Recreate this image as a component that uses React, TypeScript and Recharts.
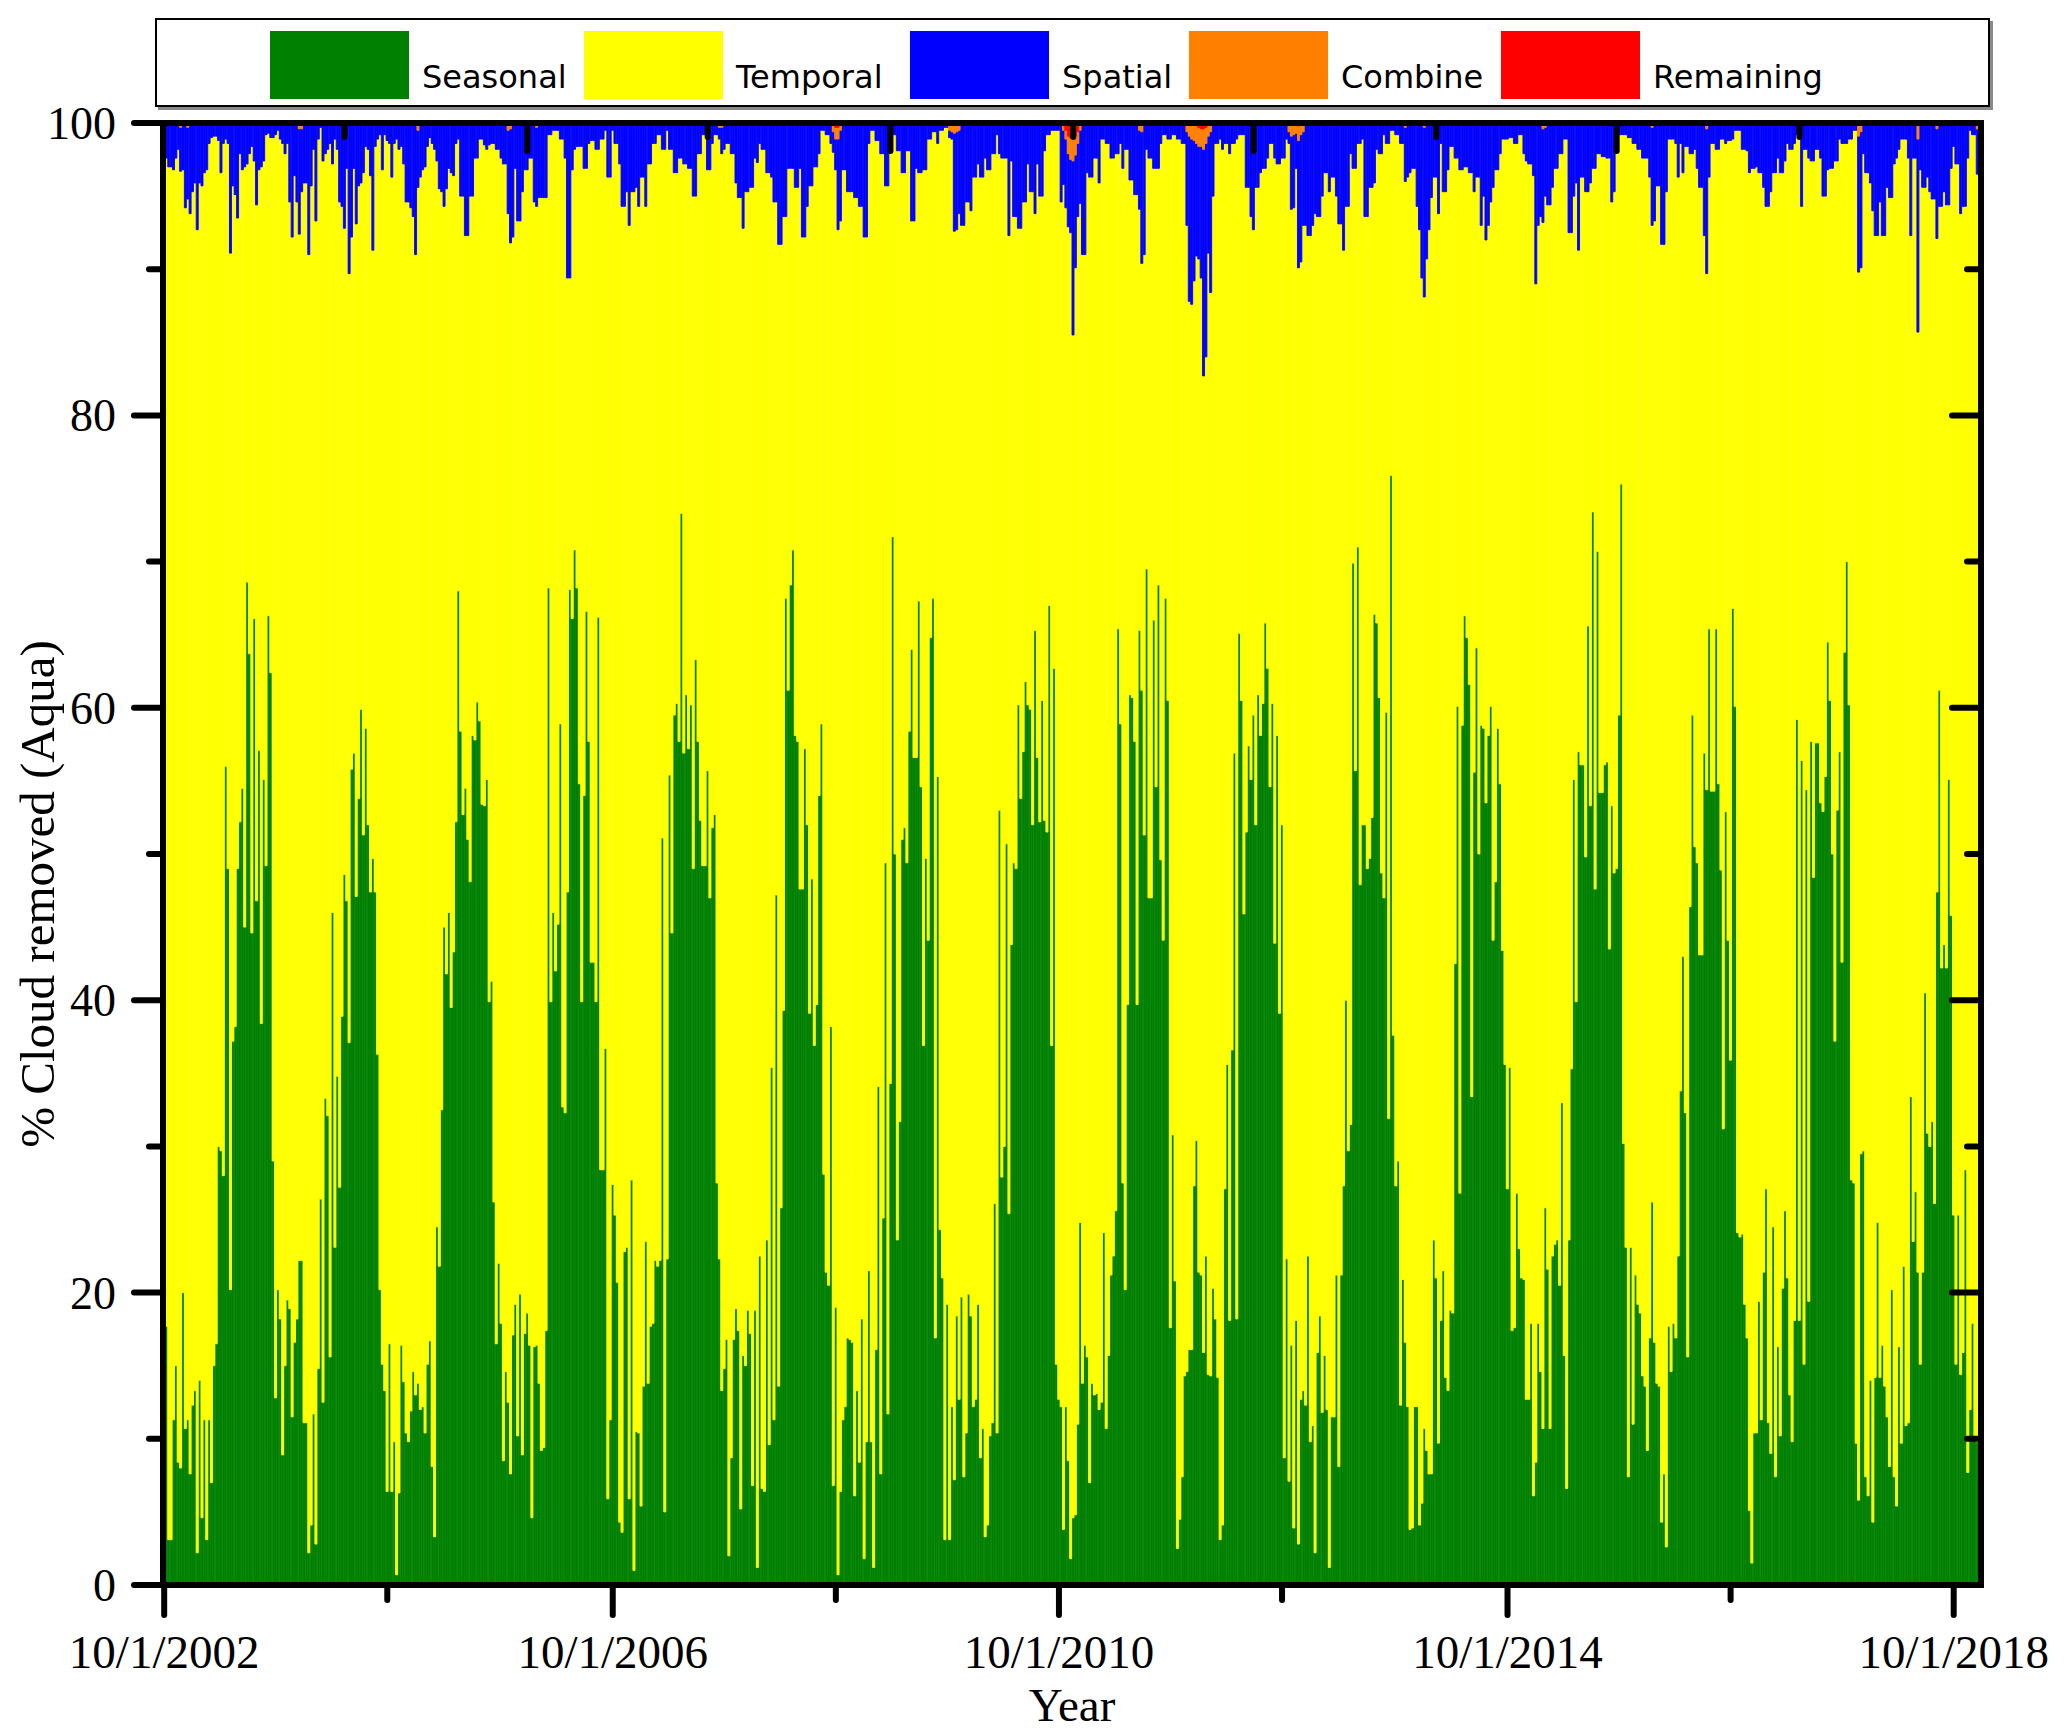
import React from 'react';
import { BarChart, Bar, XAxis, YAxis, Legend } from 'recharts';

// 8-day composites left to right, split into chunks (%)
const seasonalA = [
  33, 17.7, 3.1, 3.1, 11.3, 15, 8.4, 8, 20, 10.7, 11.3, 7.6, 12.3, 13.3, 2.2, 14, 4.6, 11.3, 3.1, 11.3,
  7, 15, 16.5, 30, 29.7, 28, 56, 49, 20.2, 37.2, 38.2, 49, 52.2, 54.5, 45, 68.6, 63.7, 44.6, 66.1, 46.8,
  57.1, 38.4, 55.1, 49.2, 66.3, 62.4, 29, 12.8, 20.2, 18.2, 8.9, 15, 19.5, 18.9, 11.5, 16.6, 18.2, 22.2, 22.2, 11.1,
  11.1, 2.2, 4.1, 11.7, 2.8, 14.8, 26.4, 12.5, 33.3, 32.1, 15.6, 46, 23.1, 34.8, 27.2, 38.9, 48.6, 46.8, 37.1, 55.8,
  56.9, 47.1, 53.8, 59.9, 51.3, 58.6, 52, 47.4, 49.7, 47.4, 36.3, 20.2, 15.1, 13.3, 6.4, 16.5, 6.4, 9.8, 0.7, 6.3,
  16.4, 13.9, 10.4, 9.8, 11.9, 14.6, 13, 13.8, 12, 12.2, 10.4, 15.1, 16.7, 8.1, 3.3, 24.5, 21.8, 32.5, 45, 41.8,
  46, 39.5, 43.3, 52.2, 68,
];
const seasonalB = [
  58.4, 52.7, 54.5, 51, 48.1, 58.1, 57.8, 60.4, 59.1, 53.4, 53.3, 55.1, 39.9, 41.3, 26.2, 16.5, 22, 17.9, 8.5, 14.6,
  12.5, 7.6, 17.1, 19.2, 10.2, 19.9, 8.9, 17.2, 18.6, 16.4, 4.6, 16.3, 16.4, 13.8, 9.2, 9.4, 17.4, 68.2, 39.9, 46,
  42, 45.2, 58.9, 32.7, 32.3, 47.4, 68.1, 66.1, 70.8, 68.2, 54.8, 39.9, 54, 66.6, 57.7, 42.6, 42.6, 39.9, 66.2, 28.4,
  28.4, 36.7, 5.9, 11.3, 27.4, 25.3, 20.7, 4.3, 3.6, 22.8, 23.1, 5.9, 27.7, 1, 10.5, 10.4, 5.4, 13.6, 23.5, 13.8,
  17.7, 17.9, 22.2, 21.8, 22.2, 51.1, 5, 22.3, 55.4, 44.6, 59.5, 60.3, 57.7, 73.3, 56.9, 60.9, 57.2, 60.2, 49, 63.3,
  57.7, 52.3, 49.2, 49.2, 55.7, 47, 51.8, 52.7, 27.5, 22.3, 13.3, 14.8, 16.8, 2, 8.7, 16.8, 18.9, 17.4, 5.2, 15.7,
  15, 18.8, 17.2, 6.8, 18.8,
];
const seasonalC = [
  1.2, 22.5, 6.6, 6.4, 23.6, 9.6, 35.4, 11.3, 47.2, 13.6, 25.8, 39.3, 67.5, 61.2, 68.4, 70.8, 58.1, 57.7, 47.6, 47.6,
  57.2, 52, 39.1, 48.3, 36.9, 39.7, 54, 58.9, 28.1, 21.4, 20.5, 38.2, 6.8, 19, 0.7, 6.4, 11.3, 12.2, 16.9, 16.8,
  16.6, 6.1, 13.3, 8.4, 18.2, 1.8, 9.8, 21.5, 9.8, 1.2, 16.1, 34.1, 7.6, 25.1, 49.4, 11.7, 34.3, 71.7, 50, 23.6,
  31.7, 51, 51.8, 49.4, 58.4, 64, 56.6, 56.6, 67.3, 54.6, 36.9, 49.7, 44.1, 64.8, 67.5, 16.9, 55.3, 24.3, 21, 3.1,
  19.2, 3.1, 12.2, 7.2, 18.4, 12.7, 19.7, 7.4, 10.4, 19.9, 18.4, 12.2, 12.7, 19.2, 8.7, 10.7, 3.3, 4.1, 10.2, 11.1,
  26.1, 10.4, 53, 27.9, 30, 50.7, 25.4, 43.8, 49.4, 49, 60.2, 53.8, 57, 61.8, 60.2, 59.9, 52, 65.3, 56.6, 52.2,
  60.5, 52.3, 51.5, 67, 36.9, 62.7, 15.1, 12.7,
];
const seasonalD = [
  12.2, 3.8, 12.2, 8.5, 1.8, 4.6, 4.8, 11, 24.8, 13.8, 16.4, 15.6, 7, 13.8, 13, 13.1, 12, 12.5, 24.1, 10.7,
  15.7, 21.2, 22.5, 25.6, 65.4, 58.9, 27.5, 20.2, 39.7, 60.9, 60.7, 57.7, 39.7, 65.3, 61.2, 51.3, 69.5, 47, 47, 66,
  54.6, 68.4, 49.6, 44.1, 67.5, 60.5, 17.6, 30.8, 20.8, 2.5, 4.5, 7.4, 14.3, 14.6, 16.1, 16.1, 27.3, 30.4, 21.4, 21.2,
  15.9, 22.5, 14.4, 14.3, 20.3, 18.2, 14.2, 3.1, 4.1, 27.1, 35.6, 18.1, 36.6, 56.9, 18.2, 65.1, 60.5, 45.9, 51.5, 57.4,
  55.1, 59.5, 52, 60.9, 58.1, 60.3, 65.8, 62.7, 54.6, 60.3, 43.9, 58.1, 39.1, 52, 8.7, 22.3, 7.1, 16.4, 3.9, 18.1,
  2.8, 12.7, 13.3, 12.3, 22.5, 9.8, 10.9, 2.2, 15.9, 18.4, 11.8, 15.7, 12, 1.2, 11.5, 11.5, 21.2, 8.1, 21.2, 27.3,
  40, 29.7, 31.5, 69.9, 55.7, 71, 47.9, 52,
];
const seasonalE = [
  52, 49, 49.7, 52.5, 66.4, 65.8, 60.7, 48.7, 47, 59.7, 31.9, 75.9, 37.6, 27.3, 29, 12.3, 20.9, 16.6, 12.2, 3.8,
  3.9, 12.2, 12.2, 4.1, 5.6, 10.7, 9.2, 7.6, 7.6, 23.6, 21, 9.7, 18.1, 21.5, 14.2, 13.3, 18.8, 18.6, 42.5, 60.1,
  26.8, 58.8, 66.3, 64.8, 61.6, 33.4, 55.6, 64.1, 50, 58.8, 58.6, 53.5, 58.1, 60.1, 44.1, 48.1, 58.6, 54.8, 43.4, 35.6,
  27.1, 35.4, 17.4, 17.6, 26.8, 23, 21, 20.9, 12.7, 12.7, 17.9, 6.1, 8.4, 17.9, 14.6, 10.7, 25.8, 21.6, 10.7, 22.5,
  23.3, 23.6, 20.5, 33, 15.7, 6.6, 23.6, 35.3, 55.1, 39.9, 57, 56.1, 56.1, 49.8, 65.6, 53.3, 73.4, 47.6, 70.7, 54.2,
  54.2, 56.1, 56.3, 43.5, 53.3, 48.7, 49, 59.5, 75.3, 30.2, 23.1, 7.4, 23.1, 11, 21.2, 19.2, 18.6, 14.3, 13.6, 9.2,
  16.9, 26.2, 16.6, 13.8, 13.6, 4.3, 7.6, 2.6,
];
const seasonalF = [
  17.7, 14.6, 17.9, 16.9, 22.5, 33.8, 43, 32.3, 15.6, 46.4, 59.5, 50.5, 49.4, 43.1, 43.1, 56.9, 54.4, 65.4, 54.3, 54.3,
  65.4, 54.8, 48.9, 31.2, 52.9, 44.1, 35.9, 66.8, 60.1, 24.1, 23.8, 24, 19.2, 16.9, 5.1, 1.5, 10.4, 10.4, 19.4, 11.3,
  21.4, 27.1, 11.1, 9, 24.5, 7.4, 16.3, 10.2, 20.3, 25.6, 21, 13, 9.8, 18.1, 59.2, 18.1, 56.4, 15.1, 54.4, 19.4,
  57.7, 48.4, 57.6, 57.6, 53.5, 52.9, 55.3, 64.5, 60.5, 50, 37.2, 53, 57, 42.6, 63.8, 70, 60.2, 27.7, 27.5, 9.7,
  5.8, 29.5, 29.7, 7.4, 6.1, 14, 4.3, 14.2, 24.8, 14.2, 16.4, 13.6, 11.5, 8.1, 20.2, 7.4, 5.4, 16.3, 9.7, 21.8,
  10.9, 11.1, 33.4, 23.5, 26.9, 21.4, 15.1, 21.4, 40.5, 30.9, 30, 31.7, 26.1, 47.4, 61.2, 42.2, 43.8, 42.2, 55.1, 45.8,
  25.3, 15.1, 25.3, 14.4, 15.9, 28.4, 7.7, 12, 17.9, 10, 9.8, 6.1,
];

const spatialA = [
  2.4, 2.4, 3, 3, 3.2, 2.4, 1.8, 3, 3.2, 5.8, 4.9, 6.2, 4.7, 4.1, 7.3, 4.1, 4.3, 3.4, 3.2, 1.4,
  1, 0.9, 0.9, 1.2, 3.4, 1.4, 1.1, 1.4, 8.9, 4.3, 4.9, 6.5, 2.1, 3.2, 3, 2.8, 2.1, 1.6, 2.6, 5.6,
  3.2, 3, 2.6, 0.8, 0.7, 1, 1, 0.8, 0.5, 1.1, 1.4, 2.1, 1.4, 5.4, 7.8, 3.6, 5.4, 7.2, 4.3, 4.1,
  4.1, 9, 4.3, 1.8, 6.7, 1.1, 0.3, 2.6, 2.1, 1.8, 1.4, 2.8, 1.1, 1.8, 5.4, 5.7, 7.2, 3.1, 10.3, 7.8,
  3.1, 6.9, 4.3, 4.1, 3.4, 1.6, 1.8, 3.6, 8.7, 1.6, 1.1, 0.8, 3.2, 0.8, 1.2, 1.4, 3.7, 1.4, 1.1, 1.8,
  1.6, 2.8, 5.4, 5.4, 5.8, 6.4, 9, 3.9, 3.7, 3.2, 3, 1.6, 1, 1.4, 1.8, 2.6, 4.5, 4.7, 5.7, 4.5,
  3.1, 3.4, 3.6, 1.4, 1.1,
];
const spatialB = [
  5, 5, 7.7, 7.7, 5, 5, 2.4, 2.4, 1.1, 1.1, 1.5, 1.8, 1.5, 1.4, 1.4, 1.8, 1.8, 2.4, 2.8, 2.8,
  5.7, 7.8, 7.8, 3.1, 6.7, 6.7, 4.7, 3.2, 3.2, 2.4, 2.4, 5.4, 5.4, 5.1, 5.1, 5.1, 5.1, 0.8, 0.8, 0.5,
  0.5, 0.5, 1.1, 1.1, 2.4, 10.6, 10.6, 3.2, 1.8, 1.6, 1.6, 1.6, 3.1, 3.1, 1.4, 1.2, 1.2, 1.8, 1.8, 1.1,
  1.1, 0.5, 3.7, 3.7, 0.5, 1.4, 1.4, 2.8, 5.7, 5.7, 4.7, 7, 4.7, 4.7, 4.4, 5.7, 3.7, 3.7, 5.7, 2.8,
  2.8, 1.4, 1.4, 0.8, 0.8, 1.8, 1.8, 0.5, 1.8, 1.8, 3.4, 3.4, 2.4, 2.4, 2.8, 2.8, 3.1, 3.1, 5, 5,
  2.1, 2.1, 0.8, 0.8, 3.2, 3.2, 1.4, 0.8, 0.8, 0.8, 1.8, 1.8, 1.4, 1.4, 2.1, 2.1, 4.1, 5.1, 5.1, 7.2,
  4.7, 4.7, 4.4, 4.4, 2.4,
];
const spatialC = [
  2.7, 1.4, 1.8, 1.8, 3.4, 3.4, 3.7, 5.4, 5.4, 8.3, 8.3, 6.4, 6.4, 3.1, 3.1, 3.1, 4.4, 4.4, 3.1, 7.8,
  7.8, 5.7, 4.3, 4.3, 3, 3, 2.1, 0.5, 0.5, 0.8, 0.8, 1.4, 1.4, 2.1, 6.2, 6.2, 3.2, 3.2, 4.7, 4.7,
  4.7, 5.1, 5.1, 5.7, 5.7, 7.8, 7.8, 1.4, 0.5, 0.5, 1.2, 1.2, 2.1, 2.1, 4.3, 4.3, 1.1, 0.8, 0.8, 1.9,
  1.9, 3.4, 3.4, 1.9, 1.9, 6.7, 6.7, 3.1, 3.4, 3.4, 3.2, 3.2, 1.1, 1.1, 0.6, 0.6, 1.4, 0.5, 0.5, 0.3,
  0.3, 0.5, 0.5, 6.7, 6.7, 5.7, 7, 7, 5.4, 5.4, 6, 3.7, 3.7, 2.8, 3.7, 3.7, 2.4, 3.2, 3.2, 2.1,
  2.1, 0.8, 2.1, 2.4, 2.4, 2.4, 7.7, 2.6, 6.4, 6.4, 7.2, 7.2, 5.4, 5.4, 2.8, 4.7, 4.7, 6.2, 2.8, 5,
  5, 1.9, 0.8, 0.8, 0.5, 0.5, 0.5, 0.5,
];
const spatialD = [
  5.4, 3.7, 4.7, 5, 5, 11.9, 7.7, 5, 5, 9, 9, 3.4, 3.7, 3.7, 2.4, 2.4, 4.1, 1.1, 1.1, 1.4,
  1.4, 2.4, 2.4, 2.1, 2.1, 1.4, 3.1, 1.8, 1.8, 3.9, 3.9, 4.9, 4.9, 5.4, 9, 9, 1.8, 2.4, 2.4, 3.1,
  3.1, 3.1, 1.4, 0.8, 0.8, 1.1, 1.1, 0.8, 0.8, 1.1, 1.1, 1.4, 1.4, 6.4, 11.3, 11.3, 9.6, 7.7, 7.7, 9,
  15.5, 14.6, 8, 11, 5, 1.4, 1.4, 1.1, 1.8, 1.4, 1.4, 2.1, 1.4, 1.4, 1.1, 0.8, 0.8, 0.8, 4.4, 4.4,
  6.4, 7.3, 4.4, 4.4, 3.4, 3.1, 3.1, 2.4, 1.4, 1.4, 2.4, 2.8, 2.8, 2.4, 2.4, 1.1, 0.8, 5, 5, 2.4,
  8.7, 8.7, 6.4, 7, 7.7, 7.7, 7, 6.2, 6.4, 6.4, 5, 3.4, 3.4, 4.7, 3.7, 3.7, 5, 6.9, 6.9, 8.7,
  5.7, 5.7, 2.1, 3.1, 3.1, 1.4, 1.4, 1.1,
];
const spatialE = [
  6.4, 6.4, 4.4, 4.4, 4.1, 1.8, 2.1, 2.1, 0.8, 1.4, 1.4, 0.5, 0.5, 0.8, 0.8, 1.4, 1.4, 3.7, 3.7, 3.4,
  3.1, 3.1, 5.7, 7.3, 10.6, 11.6, 9.3, 7.3, 5.1, 3.7, 3.7, 6.2, 1.4, 4.7, 4.7, 3.2, 1.6, 1.6, 2.4, 2.4,
  3.2, 3.2, 3, 3, 3.4, 3.4, 4.7, 3.7, 3.7, 7, 5, 8, 7, 5.4, 4.4, 3.2, 3.2, 2.1, 1.1, 1.1,
  1.1, 1, 1, 1.4, 1.4, 0.8, 0.8, 2.1, 2.6, 2.8, 2.8, 3.6, 11, 7, 6.4, 6.4, 4.7, 5.6, 5.6, 4.4,
  3.1, 3.1, 2.1, 2.1, 1.1, 1.1, 7.5, 7.5, 5, 4.1, 8.7, 3.7, 3.7, 4.7, 4.7, 4.1, 3.1, 3.1, 2.1, 2.1,
  2.3, 2.3, 2.4, 2.4, 5.4, 4.7, 0.8, 0.8, 0.8, 0.8, 0.8, 1, 1, 1.4, 1.4, 1.8, 1.8, 2.4, 2.4, 2.4,
  3.7, 6.7, 6.7, 4.3, 4.3, 8.3, 8.3, 4.7,
];
const spatialF = [
  1.1, 1.1, 1.1, 1.4, 3.7, 1.4, 3.4, 1.6, 1.6, 2.1, 2.1, 1.8, 3.1, 4.4, 4.4, 7.7, 9.9, 3.7, 1.4, 1.4,
  1.8, 1.8, 1.1, 1.1, 1.4, 1.2, 1.2, 1.1, 0.5, 0.5, 0.5, 1.8, 1.8, 1.9, 3.4, 3.1, 3.1, 3, 3.4, 3.4,
  4.4, 5.7, 5.7, 4.7, 3.4, 3.4, 2.4, 3.4, 3.4, 2.6, 1.4, 1.8, 1.8, 1.4, 0.8, 0.8, 5.7, 1.8, 1.8, 2.4,
  2.6, 2.6, 1.8, 1.8, 2.4, 5, 5, 3.2, 3.1, 3.1, 2.6, 2.6, 1.1, 1.4, 1.4, 1.4, 1.1, 1.1, 0.5, 0.5,
  9.3, 9.3, 2.1, 3.4, 3.4, 4.1, 6, 7.7, 7.7, 5.4, 7.7, 7.7, 4.4, 5.1, 5.1, 2.8, 2.4, 1.8, 1.1, 1.1,
  1.1, 2.4, 7.7, 2.4, 2.4, 13.2, 3.2, 4.4, 4.4, 3.7, 4.7, 5.2, 5.2, 7.5, 5.7, 5.7, 4.7, 5.6, 5.6, 3.1,
  1.6, 2.8, 2.8, 6.2, 5.7, 5.7, 2.4, 0.5, 0.8, 0.8, 3.1, 3.1,
];

// combine / remaining only show up in a few composites: [bar index, %]
const combineSpots: [number, number][] = [
  [7, 0.3], [10, 0.3], [57, 0.4], [58, 0.4], [107, 0.5], [145, 0.5], [146, 0.4], [157, 0.3], [234, 0.3], [235, 0.3],
  [282, 0.6], [283, 0.8], [284, 0.8], [285, 0.5], [331, 0.5], [332, 0.6], [333, 0.7], [334, 0.6], [335, 0.5],
  [379, 0.5], [380, 0.6], [381, 1.2], [382, 1.5], [383, 1.6], [384, 1.3], [385, 0.8], [386, 0.5],
  [411, 0.5], [412, 0.6],
  [431, 0.6], [432, 0.9], [433, 1.1], [434, 1.2], [435, 1.4], [436, 1.3], [437, 1.2], [438, 1.4], [439, 1.1], [440, 0.9], [441, 0.6],
  [474, 0.6], [475, 0.9], [476, 0.8], [477, 0.7], [478, 1], [479, 0.8], [480, 0.6],
  [523, 0.3], [531, 0.3], [581, 0.4], [582, 0.3], [627, 0.3], [650, 0.4], [714, 0.9], [715, 0.6], [739, 1.1], [747, 0.4], [764, 0.4],
];
const remainingSpots: [number, number][] = [
  [283, 0.3], [284, 0.3],
  [380, 0.5], [381, 0.9], [382, 1], [383, 1], [384, 0.9], [385, 0.6],
  [436, 0.3], [437, 0.4], [438, 0.4], [439, 0.3], [478, 0.2],
];

const yTicks = [0, 10, 20, 30, 40, 50, 60, 70, 80, 90, 100];
const yearTicks = [0, 2, 4, 6, 8, 10, 12, 14, 16]; // years after 10/1/2002
const dateLabels = ['10/1/2002', '10/1/2006', '10/1/2010', '10/1/2014', '10/1/2018'];
const yearSpan = 16.25; // years covered by the plot width
const topTicks = [1, 2, 3, 4, 5, 6, 7, 8, 9]; // tenths of the plot width

const series = [
  { key: 'seasonal', name: 'Seasonal', color: '#008000' },
  { key: 'temporal', name: 'Temporal', color: '#ffff00' },
  { key: 'spatial', name: 'Spatial', color: '#0000ff' },
  { key: 'combine', name: 'Combine', color: '#ff8000' },
  { key: 'remaining', name: 'Remaining', color: '#ff0000' },
];

const seasonal = [...seasonalA, ...seasonalB, ...seasonalC, ...seasonalD, ...seasonalE, ...seasonalF];
const spatial = [...spatialA, ...spatialB, ...spatialC, ...spatialD, ...spatialE, ...spatialF];
const combineMap = new Map(combineSpots);
const remainingMap = new Map(remainingSpots);

// the five parts add up to 100 %, temporal is what is left
const data = seasonal.map((s, i) => {
  const sp = spatial[i] ?? 0;
  const c = combineMap.get(i) ?? 0;
  const r = remainingMap.get(i) ?? 0;
  return { i, seasonal: s, temporal: 100 - s - sp - c - r, spatial: sp, combine: c, remaining: r };
});

// ticks live on the category axis, so turn years / tenths into bar slots
const n = data.length;
const yearAtSlot = new Map(yearTicks.map((y) => [Math.round((y / yearSpan) * n), y]));
const tenthAtSlot = new Map(topTicks.map((k) => [Math.round((k / 10) * n - 0.5), k]));

const serif = '"Liberation Serif", "Times New Roman", serif';
const frame = { stroke: '#000', strokeWidth: 6, strokeLinecap: 'square' as const };
// left edge of each legend swatch inside the box
const legendLeft = [113, 427, 753, 1032, 1344];

const LeftTick = ({ x, y, payload }: any) => {
  const major = payload.value % 20 === 0;
  return (
    <g>
      <line x1={x - (major ? 29 : 14)} x2={x} y1={y} y2={y} stroke="#000" strokeWidth={6} strokeLinecap="round" />
      {major && (
        <text x={x - 47} y={y + 16} textAnchor="end" fontFamily={serif} fontSize={46} fill="#000">
          {payload.value}
        </text>
      )}
    </g>
  );
};

const RightTick = ({ x, y, payload }: any) => {
  const major = payload.value % 20 === 0;
  return <line x1={x - (major ? 29 : 14)} x2={x} y1={y} y2={y} stroke="#000" strokeWidth={6} strokeLinecap="round" />;
};

const BottomTick = ({ x, y, payload }: any) => {
  const yr = yearAtSlot.get(payload.value) ?? 0;
  const major = yr % 4 === 0;
  return (
    <g>
      <line x1={x} x2={x} y1={y} y2={y + (major ? 30 : 15)} stroke="#000" strokeWidth={6} strokeLinecap="round" />
      {major && (
        <text x={x} y={y + 83} textAnchor="middle" fontFamily={serif} fontSize={47} fill="#000">
          {dateLabels[yr / 4]}
        </text>
      )}
    </g>
  );
};

const TopTick = ({ x, y, payload }: any) => {
  const k = tenthAtSlot.get(payload.value) ?? 1;
  return <line x1={x} x2={x} y1={y} y2={y + (k % 2 === 0 ? 28 : 14)} stroke="#000" strokeWidth={6} strokeLinecap="round" />;
};

const LegendBox = () => (
  <div
    style={{
      position: 'relative',
      width: 1835,
      height: 89,
      boxSizing: 'border-box',
      border: '2px solid #000',
      boxShadow: '3px 3px 0 #8a8a8a',
      background: '#fff',
      fontFamily: '"DejaVu Sans", Verdana, sans-serif',
      fontSize: 32,
      color: '#000',
    }}
  >
    {series.map((s, k) => (
      <div
        key={s.key}
        style={{ position: 'absolute', left: legendLeft[k], top: 11, display: 'flex', alignItems: 'flex-end' }}
      >
        <div style={{ width: 139, height: 68, background: s.color }} />
        <span style={{ marginLeft: 13, lineHeight: '32px', marginBottom: 6, whiteSpace: 'nowrap' }}>{s.name}</span>
      </div>
    ))}
  </div>
);

const App: React.FC = () => {
  return (
    <div style={{ width: 2067, height: 1736, background: '#fff' }}>
      <style>{'body{margin:0}'}</style>
      <BarChart
        width={2067}
        height={1736}
        data={data}
        margin={{ top: 122, right: 85, bottom: 150, left: 162 }}
        barCategoryGap={0}
        barGap={0}
      >
        {series.map((s) => (
          <Bar
            key={s.key}
            dataKey={s.key}
            name={s.name}
            stackId="a"
            xAxisId="bars"
            yAxisId="left"
            fill={s.color}
            stroke={s.color}
            strokeWidth={0.9}
            isAnimationActive={false}
          />
        ))}
        <XAxis
          xAxisId="bars"
          dataKey="i"
          ticks={[...yearAtSlot.keys()]}
          interval={0}
          height={1}
          tickSize={0}
          tickMargin={0}
          tickLine={false}
          tick={BottomTick}
          axisLine={frame}
          label={(p: any) => {
            const vb = p.viewBox || { x: 163, width: 1818 };
            return (
              <text x={vb.x + vb.width / 2} y={1721} textAnchor="middle" fontFamily={serif} fontSize={47} fill="#000">
                Year
              </text>
            );
          }}
        />
        <XAxis
          xAxisId="top"
          dataKey="i"
          orientation="top"
          ticks={[...tenthAtSlot.keys()]}
          interval={0}
          height={1}
          tickSize={0}
          tickMargin={0}
          tickLine={false}
          tick={TopTick}
          axisLine={frame}
        />
        <YAxis
          yAxisId="left"
          domain={[0, 100]}
          allowDataOverflow
          ticks={yTicks}
          interval={0}
          width={1}
          tickSize={0}
          tickMargin={0}
          tickLine={false}
          tick={LeftTick}
          axisLine={frame}
          label={(p: any) => {
            const vb = p.viewBox || { y: 123, height: 1462 };
            const cy = vb.y + vb.height / 2 + 40;
            return (
              <text
                x={54}
                y={cy}
                transform={`rotate(-90, 54, ${cy})`}
                textAnchor="middle"
                fontFamily={serif}
                fontSize={49}
                fill="#000"
              >
                % Cloud removed (Aqua)
              </text>
            );
          }}
        />
        <YAxis
          yAxisId="right"
          orientation="right"
          domain={[0, 100]}
          allowDataOverflow
          ticks={yTicks}
          interval={0}
          width={1}
          tickSize={0}
          tickMargin={0}
          tickLine={false}
          tick={RightTick}
          axisLine={frame}
        />
        <Legend
          layout="horizontal"
          verticalAlign="middle"
          align="center"
          wrapperStyle={{ left: 155, top: 18, width: 1835, height: 89 }}
          content={LegendBox}
        />
      </BarChart>
    </div>
  );
};

export default App;
